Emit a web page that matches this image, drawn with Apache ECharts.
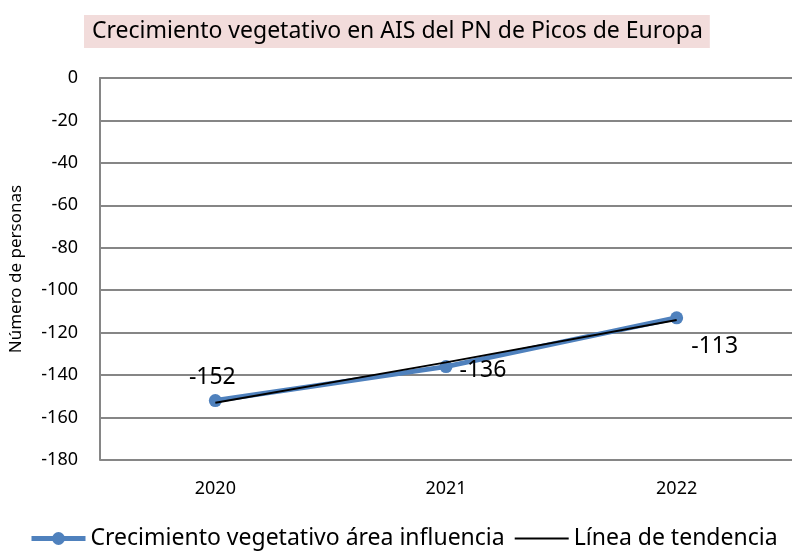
<!DOCTYPE html>
<html><head><meta charset="utf-8">
<script src="https://cdn.jsdelivr.net/npm/echarts@6/dist/echarts.min.js"></script>
<style>html,body{margin:0;padding:0;background:#fff}#c{width:792px;height:552px}</style>
</head><body><div id="c"></div>
<script>
const categories = ['2020', '2021', '2022'];
const seriesValues = [-152, -136, -113];
const trendValues = [-153, -134, -114];
const yTicks = [0, -20, -40, -60, -80, -100, -120, -140, -160, -180];
const labelPositions = ['top', 'right', 'bottom'];
const labelOffsets = [[-3, 0], [2, 4], [38, 6]];

const FONT = '"Noto Sans", "Open Sans", sans-serif';
const chart = echarts.init(document.getElementById('c'), null, {renderer: 'canvas'});
chart.setOption({
  animation: false,
  title: {
    text: 'Crecimiento vegetativo en AIS del PN de Picos de Europa',
    left: 84, top: 15,
    backgroundColor: '#F2DCDB',
    padding: [5, 7, 5, 8],
    textStyle: {fontFamily: FONT, fontSize: 23, fontWeight: 'normal', color: '#000'}
  },
  grid: {left: 100, right: 0, top: 78, bottom: 92, containLabel: false, outerBoundsMode: 'none'},
  legend: {
    top: 527, left: 29, padding: 0,
    itemWidth: 54, itemHeight: 16, itemGap: 9,
    textStyle: {fontFamily: FONT, fontSize: 23, color: '#000'},
    data: [
      {name: 'Crecimiento vegetativo área influencia', lineStyle: {width: 5}},
      {name: 'Línea de tendencia', itemStyle: {opacity: 0}, lineStyle: {width: 2}}
    ]
  },
  xAxis: {
    type: 'category', data: categories, boundaryGap: true,
    axisLine: {lineStyle: {color: '#868686', width: 2}},
    axisTick: {show: false},
    axisLabel: {fontFamily: FONT, fontSize: 18, color: '#000', margin: 20}
  },
  yAxis: {
    type: 'value', min: -180, max: 0, interval: 20,
    name: 'Número de personas', nameLocation: 'middle', nameGap: 75,
    nameTextStyle: {fontFamily: FONT, fontSize: 17, color: '#000'},
    axisLine: {show: true, lineStyle: {color: '#868686', width: 2}},
    axisTick: {show: false},
    axisLabel: {fontFamily: FONT, fontSize: 18, color: '#000', margin: 22,
      formatter: v => yTicks.includes(v) ? String(v) : ''},
    splitLine: {lineStyle: {color: '#868686', width: 2}}
  },
  series: [
    {
      name: 'Crecimiento vegetativo área influencia',
      type: 'line',
      symbol: 'circle', symbolSize: 13,
      itemStyle: {color: '#4F81BD'},
      lineStyle: {color: '#4F81BD', width: 5},
      label: {show: true, fontFamily: FONT, fontSize: 23, color: '#000'},
      data: seriesValues.map((v, i) => ({value: v,
        label: {position: labelPositions[i], offset: labelOffsets[i]}})),
      z: 2
    },
    {
      name: 'Línea de tendencia',
      type: 'line', data: trendValues,
      symbol: 'none',
      itemStyle: {color: '#000'},
      lineStyle: {color: '#000', width: 2},
      z: 3
    }
  ]
});
</script></body></html>
